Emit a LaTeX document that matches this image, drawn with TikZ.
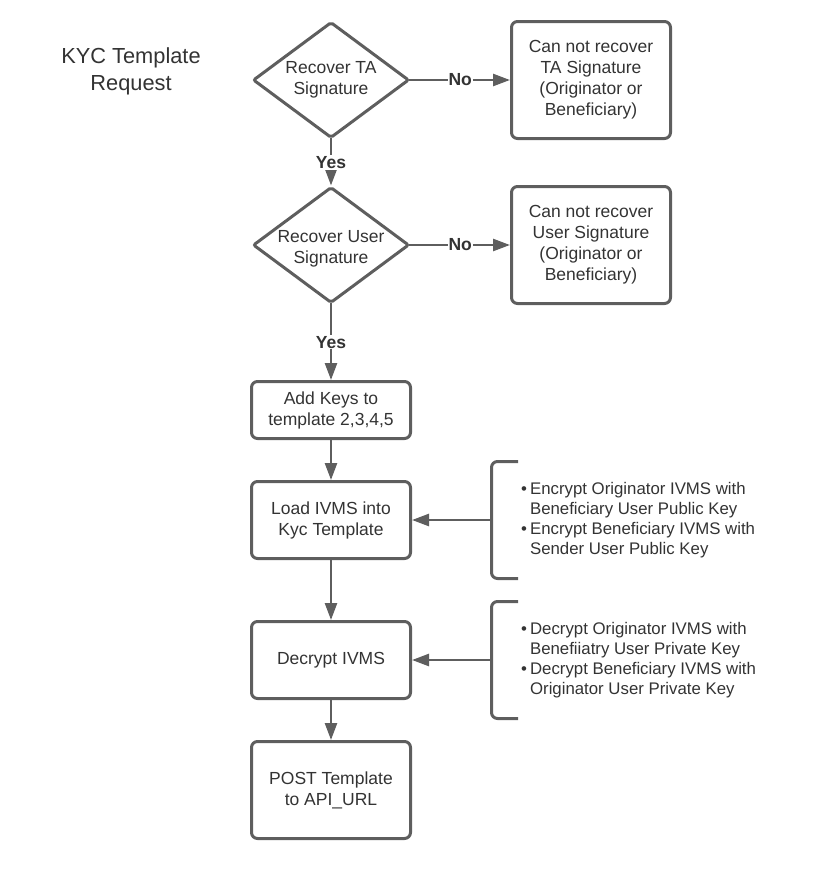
\documentclass[tikz,border=0pt]{standalone}
\usepackage{fontspec}
\setmainfont{Liberation Sans}
\usetikzlibrary{shapes.geometric,arrows.meta}
\definecolor{ln}{HTML}{5E5E5E}
\definecolor{tx}{HTML}{333333}
\begin{document}
\begin{tikzpicture}[x=1pt,y=-1pt,
  base/.style={text=tx, font=\fontsize{17.5}{21}\selectfont, align=center},
  box/.style={base, draw=ln, line width=3pt, rounded corners=6pt,
    minimum width=159pt, minimum height=#1, inner sep=0pt},
  dec/.style={draw=ln, line width=3pt, diamond, rounded corners=2pt,
    minimum width=156pt, minimum height=116pt, inner sep=0pt},
  dectext/.style={base},
  arr/.style={draw=ln, line width=2.5pt, -{Triangle[length=17pt,width=12pt]}},
  darr/.style={arr, shorten <=-2pt},
  brk/.style={draw=ln, line width=3pt, rounded corners=6pt},
  lab/.style={text=tx, fill=white, inner sep=1pt, font=\bfseries\fontsize{17.5}{21}\selectfont},
  bul/.style={text=tx, inner sep=0pt, font=\fontsize{16.8}{20}\selectfont},
  title/.style={text=tx, align=center, font=\fontsize{21.8}{27}\selectfont}
]
\useasboundingbox (0,0) rectangle (820,876);

\node[title] (title) at (131,71) {KYC Template\\Request};

\node[dec, label={[dectext]center:Recover TA\\Signature}] (d1) at (331,80) {};
\node[box=117pt] (r1) at (591,80) {Can not recover\\TA Signature\\(Originator or\\Beneficiary)};

\node[dec, label={[dectext, yshift=-4pt]center:Recover User\\Signature}] (d2) at (331,245) {};
\node[box=117pt] (r2) at (591,245) {Can not recover\\User Signature\\(Originator or\\Beneficiary)};

\node[box=57pt] (b3) at (331,410) {Add Keys to\\template 2,3,4,5};
\node[box=77pt] (b4) at (331,520) {Load IVMS into\\Kyc Template};
\node[box=77pt] (b5) at (331,660) {Decrypt IVMS};
\node[box=97pt] (b6) at (331,790) {POST Template\\to API\_URL};

% brackets
\draw[brk] (518,461.5) -- (491.5,461.5) -- (491.5,578.5) -- (518,578.5);
\coordinate (k1) at (491.5,520);
\draw[brk] (518,601.5) -- (491.5,601.5) -- (491.5,718.5) -- (518,718.5);
\coordinate (k2) at (491.5,660);

\node[bul, anchor=west] (t1) at (521,520) {\begin{tabular}{@{}l@{\hspace{3pt}}l@{}}\textbullet & Encrypt Originator IVMS with\\ & Beneficiary User Public Key\\ \textbullet & Encrypt Beneficiary IVMS with\\ & Sender User Public Key\end{tabular}};
\node[bul, anchor=west] (t2) at (521,660) {\begin{tabular}{@{}l@{\hspace{3pt}}l@{}}\textbullet & Decrypt Originator IVMS with\\ & Benefiiatry User Private Key\\ \textbullet & Decrypt Beneficiary IVMS with\\ & Originator User Private Key\end{tabular}};

% connectors
\draw[darr] (d1.east) -- node[lab]{No} (r1.west);
\draw[darr] (d2.east) -- node[lab]{No} (r2.west);
\draw[darr] (d1.south) -- node[lab]{Yes} (d2.north);
\draw[darr] (d2.south) -- node[lab]{Yes} (b3.north);
\draw[arr] (b3.south) -- (b4.north);
\draw[arr] (b4.south) -- (b5.north);
\draw[arr] (b5.south) -- (b6.north);
\draw[arr] (k1) -- (b4.east);
\draw[arr] (k2) -- (b5.east);
\end{tikzpicture}
\end{document}
